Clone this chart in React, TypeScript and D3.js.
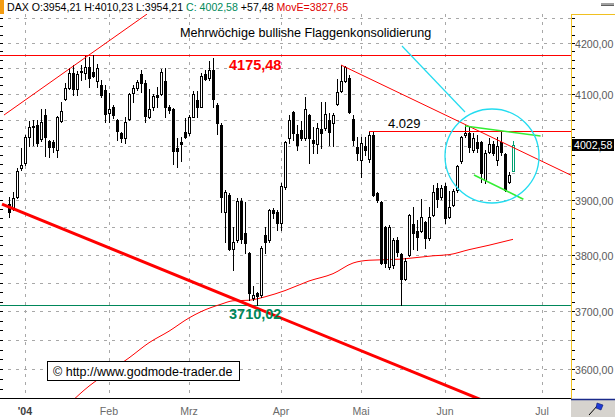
import React from "react";
import * as d3 from "d3";

// ---------- data ----------
const opens = [
  3892, 3885, 3905, 3959, 3968, 4017, 4037.5, 4040, 4014, 4059,
  4010, 4008, 3993, 4048, 4090, 4112, 4141, 4110, 4145, 4141,
  4153, 4143, 4125, 4117, 4108, 4063, 4075, 4050, 4025, 4016,
  4052, 4102, 4112, 4139, 4121, 4056, 4075, 4098, 4100, 4125,
  4075, 4071, 3996, 4008, 4027, 4025, 4056, 4088, 4075, 4139,
  4131, 4147, 4079, 4040, 3877, 3909, 3810, 3826, 3898, 3839,
  3803, 3723, 3732, 3728, 3835, 3826, 3881, 3877, 3857, 3924,
  4016, 4065, 4023, 4031, 4016, 4059, 4012, 4004, 4033, 4035,
  4050, 4044, 4081, 4106, 4125, 4131, 4052, 3998, 3974, 4000,
  3976, 4021, 3912, 3896, 3850, 3778, 3781, 3826, 3801, 3757,
  3799, 3855, 3843, 3843, 3859, 3830, 3872, 3922, 3905, 3925,
  3868, 3890, 3918, 3972, 4021, 4025, 3993, 4008, 4008, 3937,
  3989, 4004, 3974, 4008, 3985, 3933, 3954.21,
];
const highs = [
  3905, 3914, 3959, 3997, 4021, 4048, 4050, 4050, 4071, 4071,
  4012, 4012, 4057, 4084, 4121, 4151, 4157, 4145, 4157, 4174,
  4172, 4175.48, 4158, 4127, 4117, 4102, 4079, 4051, 4027, 4056,
  4102, 4117, 4127, 4147, 4127, 4110, 4100, 4114, 4149, 4151,
  4079, 4073, 4016, 4017, 4054, 4059, 4106, 4106, 4141, 4147,
  4164, 4170, 4082, 4044, 3918, 3912, 3850, 3903, 3903, 3896,
  3805, 3744, 3733, 3816, 3850, 3883, 3885, 3881, 3931, 4010,
  4059, 4067, 4040, 4048, 4094, 4061, 4037, 4044, 4084, 4084,
  4063, 4063, 4129, 4156.5, 4155, 4137, 4059, 4017, 4017, 4017,
  4029, 4027, 3914, 3898, 3852, 3854, 3830, 3832, 3803, 3794,
  3874, 3887, 3863, 3901, 3861, 3887, 3927, 3931, 3927, 3931,
  3916, 3920, 3965, 4019, 4040, 4037, 4025, 4021, 4010, 3993,
  4016, 4010, 4017, 4027, 3987, 3952, 4010.23,
];
const lows = [
  3868, 3881, 3903, 3955, 3965, 4000, 4002, 4000, 4010, 3982,
  3980, 3989, 3980, 4046, 4088, 4110, 4098, 4098, 4127, 4129,
  4114, 4134, 4114, 4094, 4046, 4046, 4054, 4012, 4008, 4006,
  4050, 4084, 4108, 4104, 4046, 4054, 4069, 4075, 4098, 4056,
  4063, 3966, 3961, 3972, 4016, 4021, 4055, 4056, 4074, 4127,
  4127, 4075, 4023, 3877, 3823, 3808, 3773, 3823, 3821, 3803,
  3719, 3719, 3710.02, 3725, 3803, 3823, 3866, 3845, 3845, 3920,
  4006, 4012, 3993, 4012, 4012, 3968, 3987, 3987, 3997, 4031,
  4002, 4000, 4079, 4104, 4123, 4063, 4002, 3974, 3942, 3983,
  3970, 3907, 3896, 3783, 3778, 3774, 3776, 3797, 3711, 3755,
  3797, 3810, 3808, 3841, 3812, 3826, 3870, 3887, 3901, 3857,
  3866, 3888, 3914, 3968, 4017, 3989, 3989, 3989, 3933, 3931,
  3987, 3983, 3965, 3983, 3916, 3931, 3954.21,
];
const closes = [
  3877, 3903, 3953, 3965, 4017, 4037, 4039.3, 4006, 4046, 4017,
  3998, 3998, 4056, 4067, 4112, 4141, 4110, 4139, 4143, 4153,
  4131, 4135, 4151, 4098, 4061, 4071, 4059, 4029, 4016, 4046,
  4100, 4112, 4123, 4121, 4057, 4071, 4096, 4095, 4143, 4075,
  4069, 3991, 3991, 4004, 4017, 4056, 4100, 4075, 4135, 4129,
  4147, 4090, 4044, 3905, 3914, 3810, 3823, 3898, 3828, 3821,
  3732, 3728, 3726, 3812, 3823, 3881, 3876, 3857, 3925, 4008,
  4050, 4025, 4002, 4016, 4071, 4016, 4006, 4035, 4025, 4061,
  4027, 4059, 4104, 4125, 4153, 4065, 4012, 3987, 4006, 3993,
  4021, 3909, 3899, 3785, 3785, 3850, 3826, 3805, 3757, 3789,
  3872, 3839, 3832, 3868, 3830, 3868, 3914, 3901, 3922, 3866,
  3887, 3916, 3963, 4017, 4025, 3998, 4016, 3996, 3950, 3987,
  4004, 3987, 4000, 3989, 3918, 3946, 4002.58,
];

// exponential moving average (MovE) samples: [trading-day index, value]
const maIndex = [15, 20, 25, 30, 35, 40, 45, 48, 53, 56, 60, 64, 69, 75, 81, 86, 90, 98, 106, 110, 115, 120, 126];
const maValue = [3541, 3571, 3595, 3619, 3645, 3665, 3688, 3699, 3712, 3718, 3719, 3725, 3736, 3753, 3766, 3785, 3790, 3792, 3798, 3800, 3809, 3817, 3827.65];

const monthLabels = ["'04", "Feb", "Mrz", "Apr", "Mai", "Jun", "Jul"];
const monthIndex = [4, 25, 45, 68, 88, 109, 133.25];

const yTickValues = [3600, 3700, 3800, 3900, 4000, 4100, 4200];
const yTickLabels = ["3600,00", "3700,00", "3800,00", "3900,00", "4000,00", "4100,00", "4200,00"];

const highLevel = 4175.48;
const highLabel = "4175,48";
const lowLevel = 3710.02;
const lowLabel = "3710,02";
const midLevel = 4029;
const midLabel = "4.029";
const midStart = 90;

const resistLine = [[83, 4156.5], [140.5, 3945.5]];
const supportLine = [[-1.75, 3892], [125, 3529]];
const channelLine = [[-1.25, 4059.4], [34.5, 4257.9]];
const flagTop = [[114, 4038.4], [132.9, 4019.3]];
const flagBottom = [[116.25, 3945.9], [128.6, 3900.8]];
const pointerLine = [[98.25, 4194], [114, 4065.2]];
const circleCenter = [120.75, 3981.5];
const circleRadiusDays = 11.75;

const title = "Mehrwöchige bullishe Flaggenkonsolidierung";
const credit = "\u00A9 http://www.godmode-trader.de";
const lastPrice = 4002.58;
const lastLabel = "4002,58";

const header = [
  { t: "DAX O:3954,21 H:4010,23 L:3954,21 ", c: "#000000" },
  { t: "C: 4002,58 ", c: "#008a5a" },
  { t: "+57,48 ", c: "#000000" },
  { t: "MovE=3827,65", c: "#e00000" },
];

// ---------- layout ----------
const W = 615;
const H = 417;
const L = 0, R = 571, T = 14, B = 398;
const FONT = "'Liberation Sans', Arial, sans-serif";

export default function App() {
  const x = d3.scaleLinear().domain([-2.25, 140.5]).range([L, R]);
  const y = d3.scaleLog().domain([3551, 4258]).range([B, T]);
  const py = (v: number) => Math.round(y(v)) + 0.5;

  const gridVals = d3.range(3600, 4251, 50);
  const minorTicks = d3
    .range(Math.ceil((3551 * 6) / 100), Math.floor((4258 * 6) / 100) + 1)
    .map((k) => (k * 100) / 6);

  const seg = (p: number[][]) => ({
    x1: x(p[0][0]),
    y1: y(p[0][1]),
    x2: x(p[1][0]),
    y2: y(p[1][1]),
  });

  const maPath = d3
    .line<number>()
    .x((d, i) => x(maIndex[i]))
    .y((d) => y(d))
    .curve(d3.curveMonotoneX)(maValue);

  const circR = x(circleCenter[0] + circleRadiusDays) - x(circleCenter[0]);

  return (
    <svg
      width={W}
      height={H}
      style={{ position: "absolute", left: 0, top: 0, background: "#ffffff" }}
      fontFamily={FONT}
    >
      <defs>
        <clipPath id="plot">
          <rect x={L} y={T} width={R - L} height={B - T} />
        </clipPath>
      </defs>
      <rect x={0} y={0} width={W} height={H} fill="#ffffff" />

      {/* header */}
      <rect x={0} y={0} width={4} height={14} fill="#f39c12" />
      <text x={7} y={11} fontSize={10.6}>
        {header.map((h, i) => (
          <tspan key={i} fill={h.c}>
            {h.t}
          </tspan>
        ))}
      </text>
      <rect x={601} y={3} width={13} height={2} fill="#a0a0a0" />
      <rect x={601} y={5} width={13} height={1} fill="#606060" />

      {/* grid */}
      <g stroke="#a8a8a8" strokeWidth={1} strokeDasharray="3 5">
        {gridVals.map((v) => (
          <line key={"h" + v} x1={L} x2={R} y1={py(v)} y2={py(v)} />
        ))}
        {monthIndex.map((m, i) => (
          <line key={"v" + i} x1={Math.round(x(m)) + 0.5} x2={Math.round(x(m)) + 0.5} y1={T} y2={B} />
        ))}
      </g>

      {/* left minor ticks */}
      <g stroke="#000" strokeWidth={1}>
        {minorTicks.map((v, i) => (
          <line key={"lt" + i} x1={0} x2={3} y1={py(v)} y2={py(v)} />
        ))}
      </g>

      <g clipPath="url(#plot)">
        {/* horizontal levels */}
        <line x1={L} x2={R} y1={py(highLevel)} y2={py(highLevel)} stroke="#ff0000" strokeWidth={1} />
        <line x1={L} x2={R} y1={py(lowLevel)} y2={py(lowLevel)} stroke="#00875a" strokeWidth={1} />

        {/* moving average */}
        <path d={maPath || ""} fill="none" stroke="#ff0000" strokeWidth={1} />

        {/* candles */}
        {opens.map((o, i) => {
          const c = closes[i];
          const cx = Math.round(x(i));
          const top = Math.round(y(Math.max(o, c)));
          const bot = Math.round(y(Math.min(o, c)));
          const last = i === opens.length - 1;
          const col = last ? "#00a070" : "#000000";
          const up = c >= o;
          return (
            <g key={i}>
              <line
                x1={cx + 0.5}
                x2={cx + 0.5}
                y1={Math.round(y(highs[i]))}
                y2={Math.round(y(lows[i])) + 1}
                stroke={col}
                strokeWidth={1}
              />
              {up ? (
                <rect
                  x={cx - 0.5}
                  y={top + 0.5}
                  width={2}
                  height={Math.max(bot - top, 1)}
                  fill="#ffffff"
                  stroke={col}
                  strokeWidth={1}
                />
              ) : (
                <rect x={cx - 1} y={top} width={3} height={Math.max(bot - top, 1) + 1} fill={col} />
              )}
            </g>
          );
        })}

        {/* trend lines */}
        <line {...seg(channelLine)} stroke="#ff0000" strokeWidth={1} />
        <line {...seg(supportLine)} stroke="#ff0000" strokeWidth={3} />
        <line {...seg(resistLine)} stroke="#ff0000" strokeWidth={1} />
        <line x1={x(midStart)} x2={R} y1={py(midLevel)} y2={py(midLevel)} stroke="#ff0000" strokeWidth={1.2} />
        <line {...seg(flagTop)} stroke="#33ee33" strokeWidth={1.6} />
        <line {...seg(flagBottom)} stroke="#33ee33" strokeWidth={1.6} />
        <line {...seg(pointerLine)} stroke="#22dcf0" strokeWidth={1.2} />
        <circle
          cx={x(circleCenter[0])}
          cy={y(circleCenter[1])}
          r={circR}
          fill="none"
          stroke="#22dcf0"
          strokeWidth={1.3}
        />
      </g>

      {/* annotations */}
      <text x={180} y={37} fontSize={12.6} fill="#000">
        {title}
      </text>
      <text x={229} y={py(highLevel) + 14.5} fontSize={14.5} fontWeight="bold" fill="#ff0000">
        {highLabel}
      </text>
      <text x={229} y={py(lowLevel) + 13} fontSize={14.5} fontWeight="bold" fill="#00875a">
        {lowLabel}
      </text>
      <text x={388} y={py(midLevel) - 3.5} fontSize={13} fill="#000">
        {midLabel}
      </text>
      <rect x={47.5} y={361.5} width={192} height={19} fill="#ffffff" stroke="#000" strokeWidth={1} />
      <text x={53} y={376} fontSize={12.5} fill="#000">
        {credit}
      </text>

      {/* bottom axis */}
      <line x1={L} x2={R} y1={B + 0.5} y2={B + 0.5} stroke="#000" strokeWidth={1} />
      {monthLabels.map((m, i) => (
        <text
          key={m}
          x={x(monthIndex[i])}
          y={415}
          fontSize={10.6}
          textAnchor="middle"
          fill={i === 0 ? "#404040" : "#6a6a6a"}
          fontWeight={i === 0 ? "bold" : "normal"}
        >
          {m}
        </text>
      ))}

      {/* right axis */}
      <line x1={R + 0.5} x2={R + 0.5} y1={T} y2={B + 1} stroke="#f0c020" strokeWidth={1} />
      <line x1={R} x2={W} y1={T + 0.5} y2={T + 0.5} stroke="#f0c020" strokeWidth={1} />
      <g stroke="#000" strokeWidth={1}>
        {minorTicks.map((v, i) => (
          <line key={"rt" + i} x1={R + 1} x2={R + 4} y1={py(v)} y2={py(v)} />
        ))}
      </g>
      {yTickValues.map((v, i) => (
        <text key={v} x={575} y={py(v) + 4} fontSize={10.6} fill="#5a5a5a">
          {yTickLabels[i]}
        </text>
      ))}
      <rect x={572} y={py(lastPrice) - 6.5} width={42} height={12} fill="#000" />
      <text x={574} y={py(lastPrice) + 3.5} fontSize={10.6} fill="#ffffff">
        {lastLabel}
      </text>

      {/* corner button */}
      <rect x={R} y={B + 1} width={W - R} height={H - B - 1} fill="#d6d3ce" />
      <line x1={R} x2={W} y1={B + 1.5} y2={B + 1.5} stroke="#1a2a8a" strokeWidth={1.5} />
      <line x1={589} y1={415} x2={598} y2={405} stroke="#000" strokeWidth={1} />
      <path d="M597,403 L603,405 L601,410 L596,408 Z" fill="#1f3bd6" stroke="#0a1a70" strokeWidth={0.6} />
    </svg>
  );
}
